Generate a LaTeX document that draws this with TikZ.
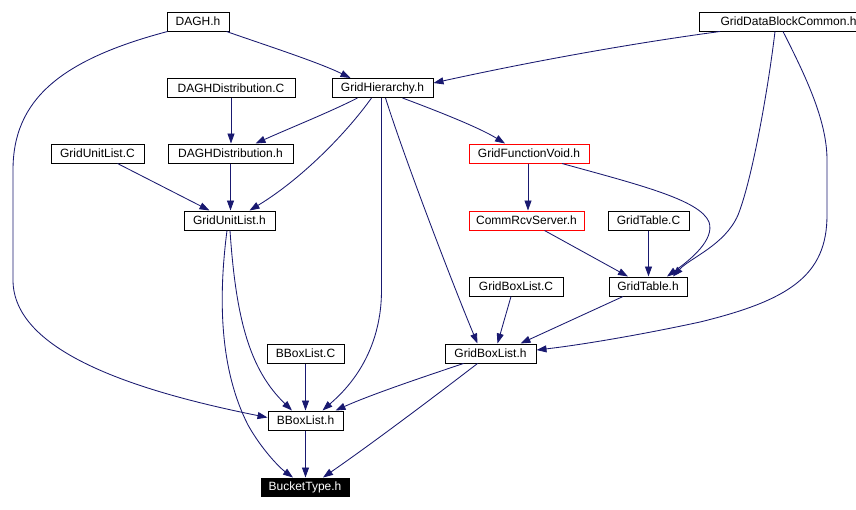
\documentclass[tikz,border=0pt]{standalone}
\usepackage{fontspec}
\setmainfont{Liberation Sans}
\usetikzlibrary{arrows.meta}
\definecolor{edgeblue}{HTML}{191970}
\begin{document}
\begin{tikzpicture}[x=1pt,y=-1pt,
  nbox/.style={draw=black, line width=1pt, fill=white, minimum height=19pt, inner sep=0pt, font=\fontsize{12}{14}\selectfont},
  redbox/.style={nbox, draw=red},
  blackbox/.style={nbox, fill=black, text=white, minimum height=18pt},
  dep/.style={draw=edgeblue, line width=0.85pt, -{Triangle[length=10pt,width=7pt]}},
]
\useasboundingbox (0,0) rectangle (856,509);
\clip (0,0) rectangle (856,509);
\fill[white] (0,0) rectangle (856,509);

% nodes
\node[nbox, minimum width=62pt] (dagh) at (198,21.5) {DAGH.h};
\node[nbox, minimum width=101pt] (gh) at (382.5,88) {GridHierarchy.h};
\node[nbox, minimum width=170pt, anchor=west, text width=160pt, align=left] (gdbc) at (699,21.5) {\hspace*{16pt}GridDataBlockCommon.h};
\node[nbox, minimum width=128pt] (ddc) at (231,88) {DAGHDistribution.C};
\node[nbox, minimum width=93pt] (guc) at (97.5,153.5) {GridUnitList.C};
\node[nbox, minimum width=125pt] (ddh) at (230.5,153.5) {DAGHDistribution.h};
\node[redbox, minimum width=120pt] (gfv) at (529,153.5) {GridFunctionVoid.h};
\node[nbox, minimum width=91pt] (guh) at (229.5,220.5) {GridUnitList.h};
\node[redbox, minimum width=115pt] (crs) at (526.5,220.5) {CommRcvServer.h};
\node[nbox, minimum width=81pt] (gtc) at (648.5,220.5) {GridTable.C};
\node[nbox, minimum width=78pt] (gth) at (648,286.5) {GridTable.h};
\node[nbox, minimum width=94pt] (gbc) at (516,286.5) {GridBoxList.C};
\node[nbox, minimum width=91pt] (gbh) at (490.5,353.5) {GridBoxList.h};
\node[nbox, minimum width=77pt] (bbc) at (305.5,353.5) {BBoxList.C};
\node[nbox, minimum width=75pt] (bbh) at (305.5,420.5) {BBoxList.h};
\node[blackbox, minimum width=88pt] (bt) at (305,487) {BucketType.h};

% edges
\draw[dep] ([xshift=-3pt]dagh.south east) .. controls (262,44) and (318,62) .. ([xshift=-32pt]gh.north);
\draw[dep] ([xshift=1pt]dagh.south west) .. controls (60,60) and (13,100) .. (13,170) -- (13,280) .. controls (13,350) and (130,390) .. ([yshift=3pt]bbh.west);
\draw[dep] ([xshift=21pt]gdbc.south west) .. controls (620,45) and (520,64) .. ([yshift=5pt]gh.east);
\draw[dep] ([xshift=76pt]gdbc.south west) .. controls (768,90) and (752,180) .. (738,215) .. controls (725,245) and (690,258) .. ([xshift=25pt]gth.north);
\draw[dep] ([xshift=84pt]gdbc.south west) .. controls (805,75) and (827,120) .. (827,160) -- (827,215) .. controls (827,275) and (790,300) .. (700,322) .. controls (640,335) and (580,345) .. ([yshift=3.5pt]gbh.east);
\draw[dep] (ddc.south) -- (ddc.south |- ddh.north);
\draw[dep] ([xshift=-25pt]gh.south) .. controls (330,112) and (290,128) .. ([xshift=25pt]ddh.north);
\draw[dep] ([xshift=-11pt]gh.south) .. controls (345,135) and (300,180) .. ([xshift=20pt]guh.north);
\draw[dep] ([xshift=-1pt]gh.south) -- (381.5,290) .. controls (381.5,360) and (340,395) .. ([xshift=17pt]bbh.north);
\draw[dep] ([xshift=3pt]gh.south) .. controls (405,160) and (455,290) .. ([xshift=-13pt]gbh.north);
\draw[dep] ([xshift=20pt]gh.south) .. controls (440,112) and (480,128) .. ([xshift=-24pt]gfv.north);
\draw[dep] ([xshift=20pt]guc.south) -- ([xshift=-20pt]guh.north);
\draw[dep] (ddh.south) -- (ddh.south |- guh.north);
\draw[dep] ([xshift=-2.5pt]guh.south) .. controls (218,300) and (220,370) .. (248,425) .. controls (262,450) and (280,468) .. ([xshift=-12pt]bt.north);
\draw[dep] ([xshift=0.5pt]guh.south) .. controls (236,320) and (250,370) .. ([xshift=-13.5pt]bbh.north);
\draw[dep] ([xshift=-1pt]gfv.south) -- ([xshift=1.5pt]crs.north);
\draw[dep] ([xshift=33pt]gfv.south) .. controls (640,185) and (700,200) .. (709,222) .. controls (715,240) and (690,260) .. ([xshift=19pt]gth.north);
\draw[dep] ([xshift=18pt]crs.south) -- ([xshift=-20pt]gth.north);
\draw[dep] (gtc.south) -- (gtc.south |- gth.north);
\draw[dep] ([xshift=-5pt]gbc.south) -- ([xshift=7pt]gbh.north);
\draw[dep] ([xshift=-25pt]gth.south) -- ([xshift=30pt]gbh.north);
\draw[dep] (bbc.south) -- (bbh.north);
\draw[dep] ([xshift=-27pt]gbh.south) .. controls (420,378) and (370,395) .. ([xshift=30pt]bbh.north);
\draw[dep] ([xshift=-13pt]gbh.south) .. controls (430,400) and (370,445) .. ([xshift=18pt]bt.north);
\draw[dep] (bbh.south) -- (bbh.south |- bt.north);
\end{tikzpicture}
\end{document}
